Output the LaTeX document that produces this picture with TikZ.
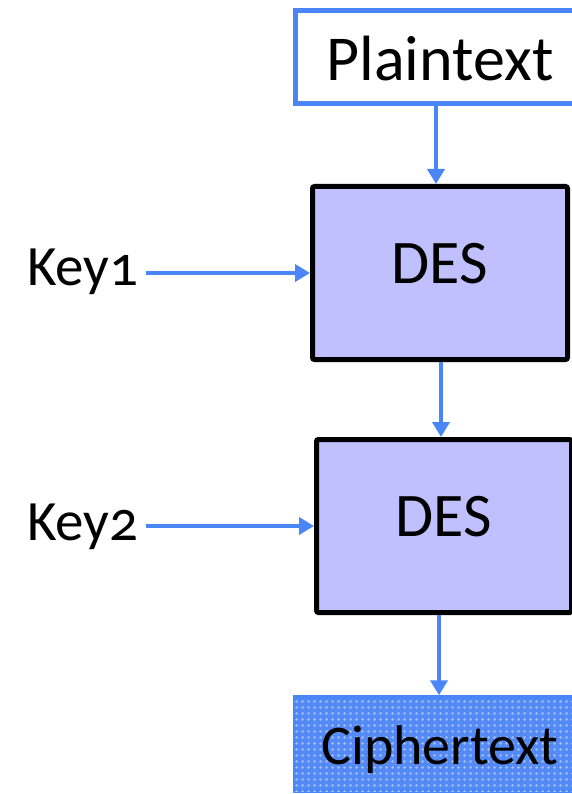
\documentclass[tikz,border=0pt]{standalone}
\usepackage{fontspec}
\setmainfont{Carlito}[Numbers=OldStyle]
\usetikzlibrary{arrows.meta,patterns.meta}
\definecolor{arrblue}{RGB}{74,134,248}
\definecolor{desfill}{RGB}{192,192,255}
\definecolor{cipherfill}{RGB}{84,138,246}
\definecolor{cipherdot}{RGB}{160,190,250}
\tikzdeclarepattern{
  name=cipherdots, type=uncolored, tile size={(6pt,6pt)},
  bottom left={(0pt,0pt)}, top right={(6pt,6pt)},
  code={\fill (3pt,3pt) circle (1.7pt);}
}
\tikzset{
  box/.style={inner sep=0pt, rectangle, anchor=center},
  plainbox/.style={box, draw=arrblue, line width=4.5pt, fill=white,
    minimum width=289pt, minimum height=93pt, font=\fontsize{64}{72}\selectfont,
    text height=47pt, text depth=0pt},
  desbox/.style={box, draw=black, line width=5pt, fill=desfill, rounded corners=2pt,
    minimum width=255pt, minimum height=173pt, font=\fontsize{62}{70}\selectfont,
    text height=40pt, text depth=20pt},
  cipherbox/.style={box, draw=arrblue, line width=3.5pt, fill=cipherfill,
    postaction={pattern=cipherdots, pattern color=cipherdot},
    minimum width=290pt, minimum height=94pt, font=\fontsize{56}{64}\selectfont,
    text height=41pt, text depth=0pt},
  keylabel/.style={inner ysep=0pt, inner xsep=7pt, anchor=base west, font=\fontsize{57}{65}\selectfont},
  flow/.style={draw=arrblue, line width=4.8pt, -{Triangle[length=15pt,width=17pt]}}
}
\begin{document}
\begin{tikzpicture}[x=1pt,y=-1pt]
\useasboundingbox (0,0) rectangle (572,794);
\clip (0,0) rectangle (572,794);
\node[plainbox] (plain) at (440,57) {Plaintext};
\node[desbox] (des1) at (440,273) {DES};
\node[desbox] (des2) at (444,526) {DES};
\node[cipherbox] (cipher) at (440,744) {Ciphertext};
\node[keylabel] (key1) at (20,285) {Key1};
\node[keylabel] (key2) at (20,540) {Key2};
\draw[flow] ([xshift=-4pt]plain.south) -- ([xshift=-4pt]plain.south |- des1.north);
\draw[flow] ([xshift=1pt]des1.south) -- ([xshift=1pt]des1.south |- des2.north);
\draw[flow] ([xshift=-5pt]des2.south) -- ([xshift=-5pt]des2.south |- cipher.north);
\draw[flow] (key1.east |- des1.west) -- (des1.west);
\draw[flow] (key2.east |- des2.west) -- (des2.west);
\end{tikzpicture}
\end{document}
